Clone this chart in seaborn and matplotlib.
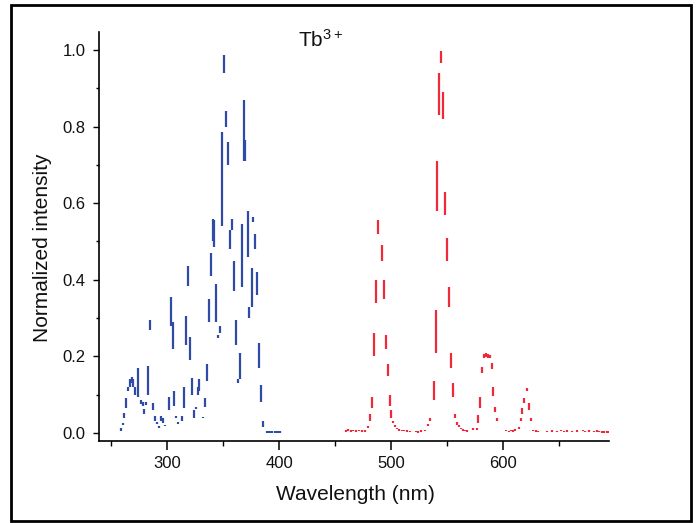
import numpy as np
import pandas as pd
import matplotlib
matplotlib.use("Agg")
import matplotlib.pyplot as plt
from matplotlib.patches import Rectangle
from matplotlib.ticker import MultipleLocator, FormatStrFormatter
import seaborn as sns

# ---------------- data (per wavelength sample: min / max intensity) -------------
blue_wl = [258.7, 260.4, 261.9, 263.7, 265.5, 267.0, 268.5, 270.0, 271.3, 273.9,
           276.6, 278.4, 279.5, 281.0, 282.8, 284.8, 287.8, 289.6, 291.2, 292.9,
           294.6, 296.4, 298.0, 301.5, 303.3, 305.0, 306.5, 308.3, 310.0, 313.4,
           315.0, 316.9, 318.8, 320.2, 322.3, 324.4, 326.0, 327.6, 328.5, 332.0,
           334.0, 335.7, 337.5, 339.3, 341.2, 341.9, 344.0, 345.5, 347.3, 349.4,
           351.2, 353.0, 354.8, 356.0, 358.3, 359.8, 361.3, 363.5, 364.9, 366.7,
           368.5, 369.9, 372.0, 373.2, 375.6, 377.0, 378.8, 380.6, 382.0, 384.2,
           385.4, 389.0, 390.5, 392.0, 393.5, 396.5, 398.0, 399.5, 401.0]
blue_lo = [0.005, 0.020, 0.040, 0.065, 0.110, 0.120, 0.130, 0.120, 0.100, 0.094,
           0.075, 0.070, 0.050, 0.074, 0.100, 0.270, 0.060, 0.030, 0.024, 0.014,
           0.030, 0.025, 0.018, 0.060, 0.280, 0.220, 0.070, 0.038, 0.024, 0.030,
           0.065, 0.230, 0.385, 0.190, 0.100, 0.040, 0.062, 0.100, 0.110, 0.038,
           0.068, 0.135, 0.290, 0.410, 0.500, 0.485, 0.290, 0.248, 0.261, 0.540,
           0.940, 0.800, 0.700, 0.480, 0.530, 0.370, 0.230, 0.130, 0.140, 0.380,
           0.710, 0.710, 0.460, 0.300, 0.330, 0.550, 0.480, 0.360, 0.170, 0.080,
           0.016, 0.000, 0.000, 0.000, 0.000, 0.000, 0.000, 0.000, 0.000]
blue_hi = [0.012, 0.027, 0.052, 0.090, 0.120, 0.140, 0.145, 0.140, 0.120, 0.170,
           0.085, 0.080, 0.062, 0.080, 0.175, 0.295, 0.078, 0.045, 0.028, 0.018,
           0.045, 0.040, 0.022, 0.094, 0.355, 0.290, 0.110, 0.044, 0.028, 0.045,
           0.120, 0.305, 0.435, 0.250, 0.144, 0.060, 0.068, 0.120, 0.140, 0.042,
           0.090, 0.180, 0.350, 0.470, 0.560, 0.555, 0.390, 0.256, 0.279, 0.786,
           0.987, 0.840, 0.760, 0.530, 0.560, 0.450, 0.295, 0.140, 0.210, 0.545,
           0.870, 0.765, 0.580, 0.330, 0.430, 0.565, 0.520, 0.420, 0.235, 0.125,
           0.030, 0.004, 0.004, 0.004, 0.004, 0.004, 0.004, 0.004, 0.004]

red_wl = [459.5, 462.0, 464.0, 466.0, 468.5, 471.0, 474.5, 477.0, 479.7, 481.5,
          483.3, 485.1, 486.9, 488.7, 491.7, 493.5, 495.3, 497.1, 498.8, 500.3,
          502.0, 503.5, 505.0, 507.0, 509.5, 512.0, 514.5, 517.0, 522.0, 524.5,
          527.0, 530.0, 533.0, 534.8, 538.0, 539.8, 541.4, 543.1, 544.9, 546.7,
          548.5, 550.0, 551.8, 553.6, 555.4, 557.0, 558.7, 560.5, 562.3, 564.0,
          566.0, 567.6, 573.0, 576.8, 577.7, 579.5, 581.3, 583.2, 584.8, 586.5,
          588.1, 589.9, 591.3, 593.1, 594.9, 603.0, 605.0, 607.0, 609.0, 611.0,
          614.0, 615.8, 617.2, 619.0, 621.0, 623.5, 625.3, 627.0, 629.5, 631.5,
          639.0, 644.0, 648.5, 652.0, 654.0, 657.5, 662.0, 666.0, 671.0, 673.0,
          677.0, 681.0, 684.0, 686.0, 688.5, 690.5, 692.5, 694.0]
red_lo = [0.003, 0.006, 0.003, 0.005, 0.003, 0.004, 0.003, 0.003, 0.012, 0.030,
          0.065, 0.200, 0.340, 0.520, 0.450, 0.350, 0.220, 0.150, 0.070, 0.040,
          0.025, 0.015, 0.010, 0.006, 0.004, 0.004, 0.003, 0.002, 0.002, 0.001,
          0.003, 0.004, 0.018, 0.030, 0.086, 0.210, 0.580, 0.830, 0.965, 0.820,
          0.570, 0.450, 0.330, 0.170, 0.094, 0.040, 0.022, 0.015, 0.010, 0.006,
          0.004, 0.003, 0.008, 0.008, 0.026, 0.065, 0.156, 0.196, 0.198, 0.197,
          0.195, 0.167, 0.097, 0.055, 0.030, 0.004, 0.002, 0.004, 0.003, 0.006,
          0.011, 0.030, 0.050, 0.078, 0.110, 0.060, 0.030, 0.005, 0.003, 0.002,
          0.002, 0.003, 0.002, 0.004, 0.002, 0.003, 0.002, 0.003, 0.004, 0.002,
          0.003, 0.002, 0.003, 0.002, 0.001, 0.001, 0.001, 0.001]
red_hi = [0.007, 0.010, 0.007, 0.009, 0.007, 0.008, 0.007, 0.007, 0.017, 0.050,
          0.094, 0.260, 0.400, 0.556, 0.490, 0.400, 0.256, 0.180, 0.100, 0.060,
          0.030, 0.020, 0.014, 0.010, 0.008, 0.008, 0.007, 0.006, 0.006, 0.005,
          0.007, 0.008, 0.024, 0.040, 0.136, 0.320, 0.710, 0.940, 0.998, 0.890,
          0.630, 0.510, 0.380, 0.210, 0.130, 0.050, 0.028, 0.020, 0.014, 0.010,
          0.008, 0.007, 0.012, 0.012, 0.047, 0.094, 0.172, 0.206, 0.208, 0.205,
          0.203, 0.183, 0.120, 0.068, 0.040, 0.008, 0.006, 0.008, 0.007, 0.010,
          0.015, 0.040, 0.065, 0.090, 0.118, 0.078, 0.040, 0.009, 0.007, 0.006,
          0.006, 0.007, 0.006, 0.008, 0.006, 0.007, 0.006, 0.007, 0.008, 0.006,
          0.007, 0.006, 0.007, 0.006, 0.005, 0.005, 0.005, 0.005]

series_names = ["Excitation", "Emission"]
series_colors = ["#2E4BA6", "#EE2A3A"]
x_ticks = [300, 400, 500, 600]
y_ticks = [0.0, 0.2, 0.4, 0.6, 0.8, 1.0]

# ---------------- long-form table ----------------
rows = []
uid = 0
for name, wl, lo, hi in [(series_names[0], blue_wl, blue_lo, blue_hi),
                         (series_names[1], red_wl, red_lo, red_hi)]:
    for w, a, b in zip(wl, lo, hi):
        rows.append((name, uid, w, a))
        rows.append((name, uid, w, b))
        uid += 1
df = pd.DataFrame(rows, columns=["series", "uid", "wavelength", "intensity"])

# ---------------- figure ----------------
sns.set_theme(style="ticks")
plt.rcParams["font.family"] = ["Liberation Sans", "DejaVu Sans"]
plt.rcParams["mathtext.fontset"] = "custom"
plt.rcParams["mathtext.rm"] = "Liberation Sans"
plt.rcParams["mathtext.it"] = "Liberation Sans:italic"
plt.rcParams["mathtext.default"] = "regular"

fig = plt.figure(figsize=(7.0, 5.23), dpi=100)
ax = fig.add_axes([99 / 700, 1 - 441 / 523, 510 / 700, 409 / 523])

sns.lineplot(data=df, x="wavelength", y="intensity", hue="series",
             units="uid", estimator=None, sort=False,
             palette=dict(zip(series_names, series_colors)),
             linewidth=1.6, legend=False, ax=ax)
for ln in ax.lines:
    ln.set_solid_capstyle("butt")

ax.set_xlim(239.3, 694.6)
ax.set_ylim(-0.021, 1.047)
ax.set_xticks(x_ticks)
ax.xaxis.set_minor_locator(MultipleLocator(50))
ax.set_yticks(y_ticks)
ax.yaxis.set_minor_locator(MultipleLocator(0.1))
ax.yaxis.set_major_formatter(FormatStrFormatter("%.1f"))

for s in ["top", "right"]:
    ax.spines[s].set_visible(False)
for s in ["left", "bottom"]:
    ax.spines[s].set_color("black")
    ax.spines[s].set_linewidth(1.2)

ax.tick_params(axis="x", which="major", length=6.5, width=1.1, color="black",
               labelsize=12, pad=4, labelcolor="#111111")
ax.tick_params(axis="x", which="minor", length=3.5, width=1.0, color="black")
ax.tick_params(axis="y", which="major", length=4.5, width=1.0, color="black",
               labelsize=12, pad=5, labelcolor="#111111")
ax.tick_params(axis="y", which="minor", length=2.5, width=1.0, color="black")

ax.set_xlabel("Wavelength (nm)", fontsize=15, color="#111111")
ax.set_ylabel("Normalized intensity", fontsize=15, color="#111111")
ax.xaxis.set_label_coords(0.502, -0.108)
ax.yaxis.set_label_coords(-0.093, 0.472)

ax.text(0.390, 0.963, "Tb$^{3+}$", transform=ax.transAxes, fontsize=15,
        ha="left", va="baseline", color="#111111")

fig.patches.append(Rectangle((0.0157, 0.004), 0.9714, 0.9866,
                             transform=fig.transFigure, fill=False,
                             lw=2.0, ec="black"))

fig.savefig("out.png", dpi=100)
